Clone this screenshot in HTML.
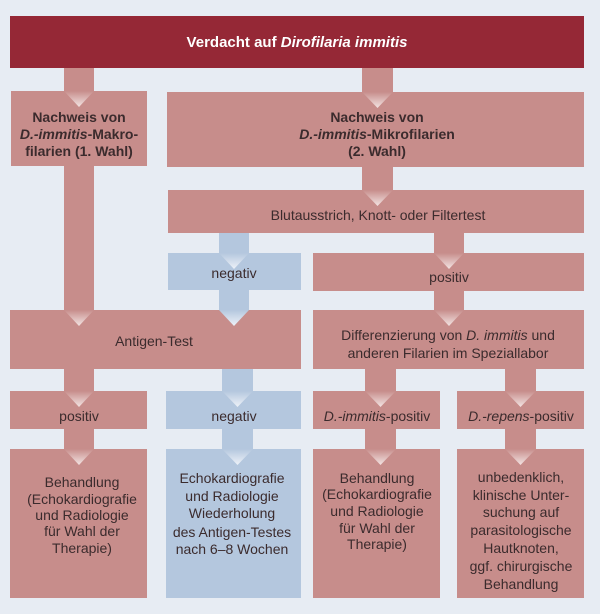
<!DOCTYPE html>
<html><head><meta charset="utf-8"><style>
html,body{margin:0;padding:0;background:#e7ecf3;}
svg{display:block;}
text{font-family:"Liberation Sans",sans-serif;font-size:14px;fill:#3b2b2d;text-anchor:middle;}
.b{font-weight:bold;}
</style></head><body>
<svg width="600" height="614" viewBox="0 0 600 614" xmlns="http://www.w3.org/2000/svg">
<defs>
<linearGradient id="gr" x1="0" y1="0" x2="0" y2="1"><stop offset="0" stop-color="#c78d8b"/><stop offset="1" stop-color="#f3e4e3"/></linearGradient>
<linearGradient id="gb" x1="0" y1="0" x2="0" y2="1"><stop offset="0" stop-color="#b4c7de"/><stop offset="1" stop-color="#eef2f8"/></linearGradient>
</defs>
<rect width="600" height="614" fill="#e7ecf3"/>
<!-- title -->
<rect x="10" y="16" width="574" height="52" fill="#952836"/>
<text x="297" y="47" class="b" style="fill:#fff;font-size:15px">Verdacht auf <tspan font-style="italic">Dirofilaria immitis</tspan></text>
<!-- connectors (red) -->
<g fill="#c78d8b">
<rect x="64" y="68" width="30" height="30"/>
<rect x="362" y="68" width="31" height="30"/>
<rect x="362" y="166" width="31" height="30"/>
<rect x="64" y="166" width="30" height="150"/>
<rect x="434" y="233" width="30" height="26"/>
<rect x="434" y="291" width="30" height="25"/>
<rect x="64" y="369" width="30" height="28"/>
<rect x="365" y="369" width="31" height="28"/>
<rect x="505" y="369" width="31" height="28"/>
<rect x="64" y="429" width="30" height="26"/>
<rect x="365" y="429" width="31" height="26"/>
<rect x="505" y="429" width="31" height="26"/>
</g>
<g fill="#b4c7de">
<rect x="219" y="233" width="30" height="26"/>
<rect x="219" y="290" width="30" height="26"/>
<rect x="222" y="369" width="31" height="28"/>
<rect x="222" y="429" width="31" height="26"/>
</g>
<!-- boxes -->
<g fill="#c78d8b">
<rect x="11" y="91" width="136" height="75"/>
<rect x="167" y="92" width="417" height="75"/>
<rect x="168" y="190" width="416" height="43"/>
<rect x="313" y="253" width="271" height="38"/>
<rect x="10" y="310" width="291" height="59"/>
<rect x="313" y="310" width="271" height="59"/>
<rect x="10" y="391" width="137" height="38"/>
<rect x="313" y="391" width="127" height="38"/>
<rect x="457" y="391" width="127" height="38"/>
<rect x="10" y="449" width="137" height="149"/>
<rect x="313" y="449" width="127" height="149"/>
<rect x="457" y="449" width="127" height="149"/>
</g>
<g fill="#b4c7de">
<rect x="168" y="253" width="133" height="37"/>
<rect x="166" y="391" width="135" height="38"/>
<rect x="166" y="449" width="135" height="149"/>
</g>
<!-- arrow tips -->
<g fill="url(#gr)">
<polygon points="64,91 94,91 79,107"/>
<polygon points="362,92 393,92 377.5,108"/>
<polygon points="362,190 393,190 377.5,206"/>
<polygon points="434,253 464,253 449,269"/>
<polygon points="64,310 94,310 79,326"/>
<polygon points="434,310 464,310 449,326"/>
<polygon points="64,391 94,391 79,407"/>
<polygon points="365,391 396,391 380.5,407"/>
<polygon points="505,391 536,391 520.5,407"/>
<polygon points="64,449 94,449 79,465"/>
<polygon points="365,449 396,449 380.5,465"/>
<polygon points="505,449 536,449 520.5,465"/>
</g>
<g fill="url(#gb)">
<polygon points="219,253 249,253 234,269"/>
<polygon points="219,310 249,310 234,326"/>
<polygon points="222,391 253,391 237.5,407"/>
<polygon points="222,449 253,449 237.5,465"/>
</g>
<!-- texts -->
<text x="79" y="122" class="b">Nachweis von</text>
<text x="79" y="139" class="b"><tspan font-style="italic">D.-immitis</tspan>-Makro-</text>
<text x="79" y="156" class="b">filarien (1. Wahl)</text>
<text x="377" y="122" class="b">Nachweis von</text>
<text x="377" y="139" class="b"><tspan font-style="italic">D.-immitis</tspan>-Mikrofilarien</text>
<text x="377" y="156" class="b">(2. Wahl)</text>
<text x="378" y="220">Blutausstrich, Knott- oder Filtertest</text>
<text x="234" y="278">negativ</text>
<text x="449" y="282">positiv</text>
<text x="154" y="346">Antigen-Test</text>
<text x="448" y="340"><tspan>Differenzierung von </tspan><tspan font-style="italic">D. immitis</tspan> und</text>
<text x="448" y="358">anderen Filarien im Speziallabor</text>
<text x="79" y="421">positiv</text>
<text x="234" y="421">negativ</text>
<text x="377" y="421"><tspan font-style="italic">D.-immitis</tspan>-positiv</text>
<text x="521" y="421"><tspan font-style="italic">D.-repens</tspan>-positiv</text>
<g>
<text x="82" y="487">Behandlung</text>
<text x="82" y="504">(Echokardiografie</text>
<text x="82" y="520">und Radiologie</text>
<text x="82" y="536">für Wahl der</text>
<text x="82" y="553">Therapie)</text>
</g>
<g>
<text x="232" y="483">Echokardiografie</text>
<text x="232" y="501">und Radiologie</text>
<text x="232" y="518">Wiederholung</text>
<text x="232" y="537">des Antigen-Testes</text>
<text x="232" y="554">nach 6–8 Wochen</text>
</g>
<g>
<text x="377" y="483">Behandlung</text>
<text x="377" y="499">(Echokardiografie</text>
<text x="377" y="516">und Radiologie</text>
<text x="377" y="533">für Wahl der</text>
<text x="377" y="549">Therapie)</text>
</g>
<g>
<text x="521" y="482">unbedenklich,</text>
<text x="521" y="500">klinische Unter-</text>
<text x="521" y="517">suchung auf</text>
<text x="521" y="535">parasitologische</text>
<text x="521" y="553">Hautknoten,</text>
<text x="521" y="571">ggf. chirurgische</text>
<text x="521" y="589">Behandlung</text>
</g>
</svg>
</body></html>
